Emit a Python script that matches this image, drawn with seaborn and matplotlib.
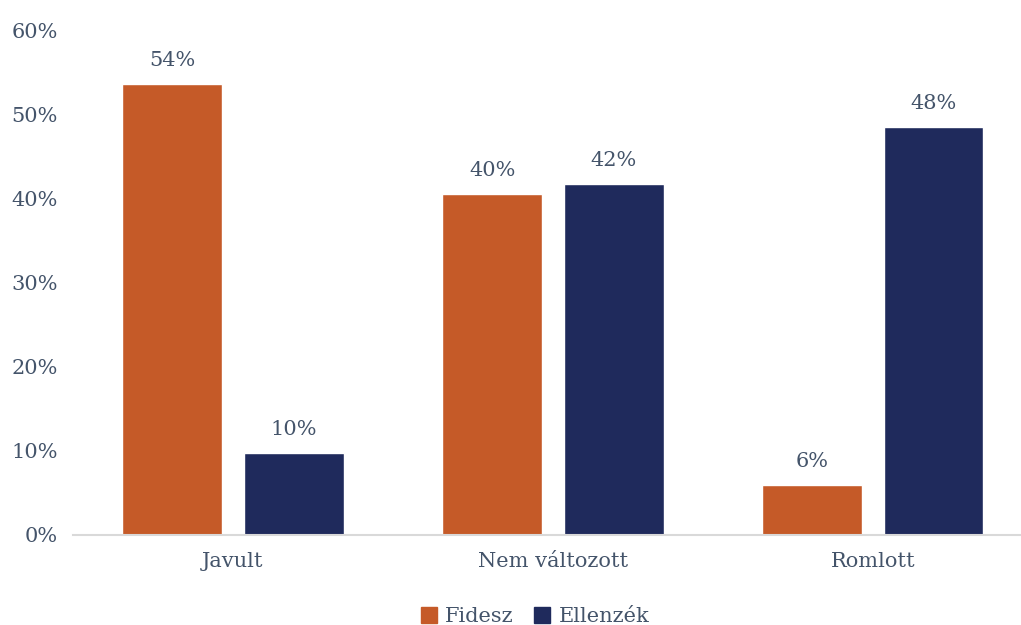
import pandas as pd
import matplotlib.pyplot as plt
import seaborn as sns

# ------------------ Data ------------------

categories = ["Javult", "Nem változott", "Romlott"]
series = ["Fidesz", "Ellenzék"]
fidesz = [53.6, 40.5, 6.0]
ellenzek = [9.8, 41.7, 48.5]
labels_fidesz = ["54%", "40%", "6%"]
labels_ellenzek = ["10%", "42%", "48%"]

df = pd.DataFrame({
    "kategoria": categories * 2,
    "csoport": [series[0]] * 3 + [series[1]] * 3,
    "ertek": fidesz + ellenzek,
})

colors = ["#C55A28", "#1F2A5C"]
text_color = "#44546A"

# ------------------ Plot ------------------

sns.set_style("white")
plt.rcParams["font.family"] = ["DejaVu Serif"]

fig = plt.figure(figsize=(10.21, 6.25), dpi=100)
ax = fig.add_axes([73 / 1021, 90 / 625, 947 / 1021, 505 / 625])

sns.barplot(data=df, x="kategoria", y="ertek", hue="csoport",
            palette=colors, saturation=1, width=0.76, gap=0.18,
            ax=ax, legend=False)

for cont, labs in zip(ax.containers, [labels_fidesz, labels_ellenzek]):
    ax.bar_label(cont, labels=labs, padding=10, fontsize=15, color=text_color)

ax.set_ylim(0, 60)
ax.set_xlim(-0.5, 2.46)
ax.set_yticks(range(0, 61, 10))
ax.set_yticklabels([f"{v}%" for v in range(0, 61, 10)])
ax.set_xlabel("")
ax.set_ylabel("")
ax.tick_params(axis="both", labelsize=15, colors=text_color, length=0)
ax.tick_params(axis="y", pad=11)
ax.tick_params(axis="x", pad=12)

for s in ["top", "right", "left"]:
    ax.spines[s].set_visible(False)
ax.spines["bottom"].set_color("#D9D9D9")
ax.spines["bottom"].set_linewidth(1.5)

handles = [plt.Rectangle((0, 0), 1, 1, color=c) for c in colors]
fig.legend(handles, series, loc="center", bbox_to_anchor=(0.524, 0.013),
           ncol=2, frameon=False, fontsize=15, labelcolor=text_color,
           handlelength=0.75, handleheight=0.75, handletextpad=0.4,
           columnspacing=1.0)

fig.savefig("out.png", dpi=100)
